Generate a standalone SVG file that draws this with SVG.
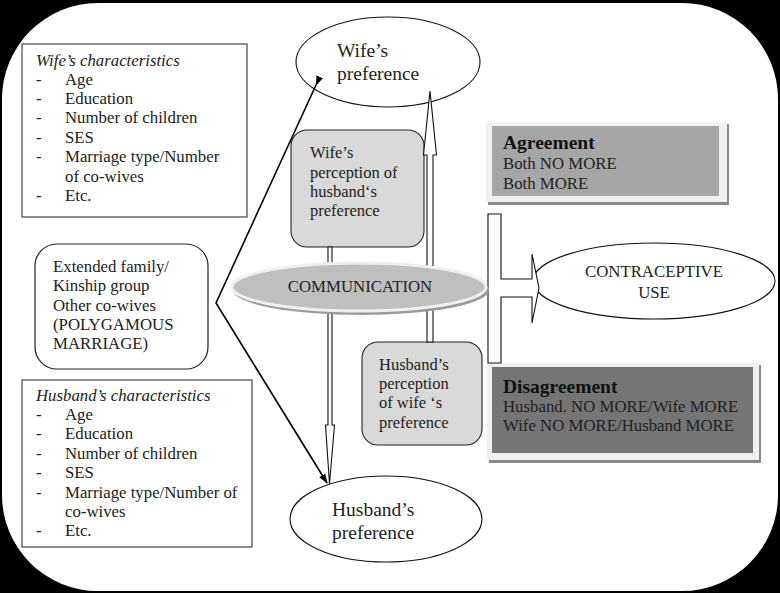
<svg xmlns="http://www.w3.org/2000/svg" width="780" height="593" viewBox="0 0 780 593" font-family="'Liberation Serif', 'DejaVu Serif', serif">
<defs>
<marker id="ah" markerWidth="10" markerHeight="10" refX="9" refY="5" orient="auto" markerUnits="userSpaceOnUse">
<path d="M0,1.5 L10,5 L0,8.5 Z" fill="#000"/>
</marker>
</defs>
<style>
text{font-family:'Liberation Serif','DejaVu Serif',serif;fill:#222;}
.t16{font-size:16.8px;}
.t165{font-size:16.8px;}
.tp{font-size:16.5px;}
.t19{font-size:19.5px;}
.it{font-style:italic;}
.b{font-weight:bold;font-size:19.5px;fill:#111;}
.box{fill:#fff;stroke:#444;stroke-width:1.2;}
.ell{fill:#fff;stroke:#111;stroke-width:1.1;}
.perc{fill:#d9d9d9;stroke:#222;stroke-width:1.1;}
.hollow{fill:#fff;stroke:#111;stroke-width:1.1;}
.solid{stroke:#000;stroke-width:1.6;fill:none;}
</style>
<rect x="0" y="0" width="780" height="593" fill="#000"/>
<rect x="2" y="3" width="776" height="588" rx="96" ry="96" fill="#fff"/>

<g id="wife-characteristics">
<rect class="box" x="22" y="44" width="225" height="173"/>
<text class="t16 it" x="36" y="66">Wife’s characteristics</text>
<g class="t16">
<text x="36" y="85">-</text><text x="65" y="85">Age</text>
<text x="36" y="104">-</text><text x="65" y="104">Education</text>
<text x="36" y="123">-</text><text x="65" y="123">Number of children</text>
<text x="36" y="143">-</text><text x="65" y="143">SES</text>
<text x="36" y="162">-</text><text x="65" y="162">Marriage type/Number</text>
<text x="65" y="182">of co-wives</text>
<text x="36" y="201">-</text><text x="65" y="201">Etc.</text>
</g>
</g>

<g id="extended-family">
<rect class="box" x="35" y="244" width="173" height="125" rx="22" ry="22" style="stroke:#222"/>
<g class="t16">
<text x="53" y="272">Extended family/</text>
<text x="53" y="291">Kinship group</text>
<text x="53" y="311">Other co-wives</text>
<text x="53" y="330">(POLYGAMOUS</text>
<text x="53" y="349">MARRIAGE)</text>
</g>
</g>

<g id="husband-characteristics">
<rect class="box" x="22" y="380" width="230" height="167"/>
<text class="t16 it" x="36" y="401">Husband’s characteristics</text>
<g class="t16">
<text x="36" y="420">-</text><text x="65" y="420">Age</text>
<text x="36" y="439">-</text><text x="65" y="439">Education</text>
<text x="36" y="459">-</text><text x="65" y="459">Number of children</text>
<text x="36" y="478">-</text><text x="65" y="478">SES</text>
<text x="36" y="498">-</text><text x="65" y="498">Marriage type/Number of</text>
<text x="65" y="517">co-wives</text>
<text x="36" y="536">-</text><text x="65" y="536">Etc.</text>
</g>
</g>

<g id="wife-preference">
<ellipse class="ell" cx="388" cy="62" rx="92" ry="45"/>
<text class="t19" x="337" y="57">Wife’s</text>
<text class="t19" x="337" y="80">preference</text>
</g>

<g id="husband-preference">
<ellipse class="ell" cx="386" cy="519" rx="96" ry="43"/>
<text class="t19" x="332" y="516">Husband’s</text>
<text class="t19" x="332" y="539">preference</text>
</g>

<g id="wife-perception">
<rect class="perc" x="291" y="130" width="133" height="117" rx="16" ry="16"/>
<g class="tp">
<text x="310" y="158">Wife’s</text>
<text x="310" y="178">perception of</text>
<text x="310" y="197">husband‘s</text>
<text x="310" y="216">preference</text>
</g>
</g>

<g id="husband-perception">
<rect class="perc" x="362" y="342" width="120" height="103" rx="16" ry="16"/>
<g class="tp">
<text x="379" y="370">Husband’s</text>
<text x="379" y="389">perception</text>
<text x="379" y="408">of wife ‘s</text>
<text x="379" y="428">preference</text>
</g>
</g>

<g id="agreement">
<rect x="488" y="124" width="241" height="81" fill="#8a8a8a"/>
<rect x="486" y="122" width="241" height="80" fill="#f0f0f0"/>
<rect x="492" y="126" width="227" height="70" fill="#a6a6a6"/>
<text class="b" x="503" y="149">Agreement</text>
<text class="t165" x="503" y="169">Both NO MORE</text>
<text class="t165" x="503" y="189">Both MORE</text>
</g>

<g id="disagreement">
<rect x="489" y="365" width="272" height="98" fill="#8a8a8a"/>
<rect x="487" y="363" width="272" height="97" fill="#f0f0f0"/>
<rect x="492" y="367" width="261" height="86" fill="#757575"/>
<text class="b" x="503" y="393">Disagreement</text>
<text class="t165" x="503" y="412">Husband. NO MORE/Wife MORE</text>
<text class="t165" x="503" y="431">Wife NO MORE/Husband MORE</text>
</g>

<g id="contraceptive-use">
<ellipse class="ell" cx="654" cy="281" rx="121" ry="38"/>
<text class="t165" x="654" y="277" text-anchor="middle">CONTRACEPTIVE</text>
<text class="t165" x="654" y="298" text-anchor="middle">USE</text>
</g>

<g id="connectors">
<polyline class="solid" points="316,85 216,303 327,483" marker-start="url(#ah)" marker-end="url(#ah)"/>
<polygon class="hollow" points="328,247 328,425 325.5,425 329.5,484 334.5,425 332,425 332,247"/>
<polygon class="hollow" points="427,342 427,155 423.5,155 430,91 436.5,155 433,155 433,342"/>
<path class="hollow" d="M488,214 H501 V279 H532 V254 L539,288 L532,323 V297 H501 V363 H488 Z"/>
</g>

<g id="communication">
<ellipse cx="361" cy="290" rx="128" ry="25" fill="#9a9a9a"/>
<ellipse cx="359" cy="287" rx="127" ry="24" fill="#bfbfbf" stroke="#efefef" stroke-width="3"/>
<text class="t165" x="360" y="292" text-anchor="middle">COMMUNICATION</text>
</g>
</svg>
